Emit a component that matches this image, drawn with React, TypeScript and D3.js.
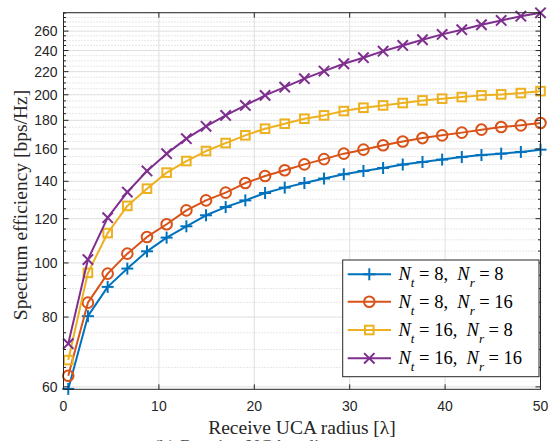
import React from "react";
import * as d3 from "d3";

// Receive UCA radius (in wavelengths)
const radius = [0.5, 2.56, 4.63, 6.69, 8.75, 10.81, 12.88, 14.94, 17.0, 19.06, 21.13, 23.19, 25.25, 27.31, 29.38, 31.44, 33.5, 35.56, 37.63, 39.69, 41.75, 43.81, 45.88, 47.94, 50.0];

// Spectrum efficiency [bps/Hz] per antenna configuration
const seNt8Nr8 = [59.5, 80.3, 90.6, 97.7, 104.9, 111.0, 116.3, 121.7, 125.9, 129.4, 133.4, 136.4, 139.0, 141.6, 144.1, 146.1, 147.9, 150.0, 151.6, 153.1, 154.7, 156.0, 156.9, 158.0, 159.5];
const seNt8Nr16 = [62.8, 84.9, 95.7, 103.9, 111.3, 117.3, 124.2, 129.4, 133.6, 139.0, 143.1, 146.5, 150.1, 153.4, 156.9, 159.5, 162.4, 165.0, 167.3, 169.2, 171.1, 173.2, 175.1, 176.3, 178.0];
const seNt16Nr8 = [67.0, 96.0, 113.1, 126.5, 135.8, 145.1, 152.2, 158.6, 163.9, 169.2, 173.9, 177.5, 181.2, 183.7, 187.0, 189.6, 191.4, 193.3, 195.4, 196.8, 198.1, 199.5, 200.3, 201.4, 203.0];
const seNt16Nr16 = [71.7, 101.4, 120.5, 133.9, 146.1, 156.9, 166.9, 175.6, 183.7, 191.4, 199.5, 206.4, 213.7, 220.5, 227.3, 233.0, 239.4, 245.1, 250.9, 256.5, 261.5, 266.9, 271.7, 276.5, 280.4];

const seriesNt = ["8", "8", "16", "16"];
const seriesNr = ["8", "16", "8", "16"];
const seriesColors = ["#0072BD", "#D95319", "#EDB120", "#7E2F8E"];
const seriesMarkers = ["plus", "circle", "square", "cross"];

const xTicks = [0, 10, 20, 30, 40, 50];
const yTicks = [60, 80, 100, 120, 140, 160, 180, 200, 220, 240, 260];

const W = 548;
const H = 441;
const L = 63.5, R = 540.5, T = 12.7, B = 389.3;

const axisColor = "#262626";
const sansFont = "'Liberation Sans', Arial, sans-serif";
const serifFont = "'Liberation Serif', 'Times New Roman', serif";

function Marker({ kind, x, y, color }: { kind: string; x: number; y: number; color: string }) {
  const sw = 2;
  if (kind === "plus") {
    const s = 6;
    return (
      <g stroke={color} strokeWidth={sw}>
        <line x1={x - s} y1={y} x2={x + s} y2={y} />
        <line x1={x} y1={y - s} x2={x} y2={y + s} />
      </g>
    );
  }
  if (kind === "circle") {
    return <circle cx={x} cy={y} r={5.3} fill="none" stroke={color} strokeWidth={sw} />;
  }
  if (kind === "square") {
    const s = 4.3;
    return <rect x={x - s} y={y - s} width={2 * s} height={2 * s} fill="none" stroke={color} strokeWidth={sw} />;
  }
  const s = 5.2;
  return (
    <g stroke={color} strokeWidth={sw}>
      <line x1={x - s} y1={y - s} x2={x + s} y2={y + s} />
      <line x1={x - s} y1={y + s} x2={x + s} y2={y - s} />
    </g>
  );
}

export default function App() {
  const x = d3.scaleLinear().domain([0, 50]).range([L, R]);
  const y = d3.scaleLog().domain([59.4, 280.5]).range([B, T]);

  const series = [seNt8Nr8, seNt8Nr16, seNt16Nr8, seNt16Nr16];
  const line = d3
    .line<number>()
    .x((_, i) => x(radius[i]))
    .y((d) => y(d));

  const minorY = d3.range(60, 281, 5).filter((v) => !yTicks.includes(v));

  // legend geometry
  const lgX = 342.7, lgY = 260, lgW = 196.3, lgH = 116.7;
  const rowY = [274.3, 301.7, 330, 358.3];

  return (
    <svg
      width={W}
      height={H}
      style={{ position: "absolute", left: 0, top: 0, background: "#fff" }}
    >
      <rect x={0} y={0} width={W} height={H} fill="#fff" />

      {/* minor grid (dotted) */}
      {minorY.map((v) => (
        <line key={"mg" + v} x1={L} x2={R} y1={y(v)} y2={y(v)} stroke="#c4c4c4" strokeWidth={0.8} strokeDasharray="1 2" />
      ))}
      {/* major grid */}
      {yTicks.map((v) => (
        <line key={"gy" + v} x1={L} x2={R} y1={y(v)} y2={y(v)} stroke="#dfdfdf" strokeWidth={1} />
      ))}
      {xTicks.map((v) => (
        <line key={"gx" + v} x1={x(v)} x2={x(v)} y1={T} y2={B} stroke="#dfdfdf" strokeWidth={1} />
      ))}

      {/* series */}
      {series.map((s, si) => (
        <g key={"s" + si}>
          <path d={line(s) || ""} fill="none" stroke={seriesColors[si]} strokeWidth={2} strokeLinejoin="round" />
          {s.map((v, i) => (
            <Marker key={i} kind={seriesMarkers[si]} x={x(radius[i])} y={y(v)} color={seriesColors[si]} />
          ))}
        </g>
      ))}

      {/* axes box */}
      <rect x={L} y={T} width={R - L} height={B - T} fill="none" stroke={axisColor} strokeWidth={1} />

      {/* x ticks */}
      {xTicks.map((v) => (
        <g key={"xt" + v}>
          <line x1={x(v)} x2={x(v)} y1={B} y2={B - 5} stroke={axisColor} />
          <line x1={x(v)} x2={x(v)} y1={T} y2={T + 5} stroke={axisColor} />
          <text x={x(v)} y={411} textAnchor="middle" fontFamily={sansFont} fontSize={14} fill={axisColor}>
            {v}
          </text>
        </g>
      ))}

      {/* y ticks */}
      {yTicks.map((v) => (
        <g key={"yt" + v}>
          <line x1={L} x2={L + 5} y1={y(v)} y2={y(v)} stroke={axisColor} />
          <line x1={R} x2={R - 5} y1={y(v)} y2={y(v)} stroke={axisColor} />
          <text x={57.5} y={y(v) + 5} textAnchor="end" fontFamily={sansFont} fontSize={14} fill={axisColor}>
            {v}
          </text>
        </g>
      ))}
      {minorY.map((v) => (
        <g key={"ym" + v}>
          <line x1={L} x2={L + 2.5} y1={y(v)} y2={y(v)} stroke={axisColor} />
          <line x1={R} x2={R - 2.5} y1={y(v)} y2={y(v)} stroke={axisColor} />
        </g>
      ))}

      {/* axis labels */}
      <text x={(L + R) / 2} y={434} textAnchor="middle" fontFamily={serifFont} fontSize={19.5} fill={axisColor}>
        Receive UCA radius [λ]
      </text>
      <text
        transform={`translate(27, ${(T + B) / 2 + 4}) rotate(-90)`}
        textAnchor="middle"
        fontFamily={serifFont}
        fontSize={19.5}
        fill={axisColor}
      >
        Spectrum efficiency [bps/Hz]
      </text>

      {/* legend */}
      <rect x={lgX} y={lgY} width={lgW} height={lgH} fill="#fff" stroke={axisColor} strokeWidth={1} />
      {rowY.map((ry, i) => (
        <g key={"lg" + i}>
          <line x1={347.7} x2={391} y1={ry} y2={ry} stroke={seriesColors[i]} strokeWidth={2} />
          <Marker kind={seriesMarkers[i]} x={369.3} y={ry} color={seriesColors[i]} />
          <text
            x={398.5}
            y={ry + 6}
            fontFamily={serifFont}
            fontSize={18.5}
            fill="#000"
            xmlSpace="preserve"
            style={{ whiteSpace: "pre" }}
          >
            <tspan fontStyle="italic">N</tspan>
            <tspan fontStyle="italic" fontSize={13} dy={7}>t</tspan>
            <tspan dy={-7}>{` = ${seriesNt[i]},  `}</tspan>
            <tspan fontStyle="italic">N</tspan>
            <tspan fontStyle="italic" fontSize={13} dy={7}>r</tspan>
            <tspan dy={-7}>{` = ${seriesNr[i]}`}</tspan>
          </text>
        </g>
      ))}

      {/* figure caption, cut by the page edge */}
      <text x={153} y={453} fontFamily={serifFont} fontSize={19} fill="#555">
        (b) Receive UCA radius
      </text>
    </svg>
  );
}
